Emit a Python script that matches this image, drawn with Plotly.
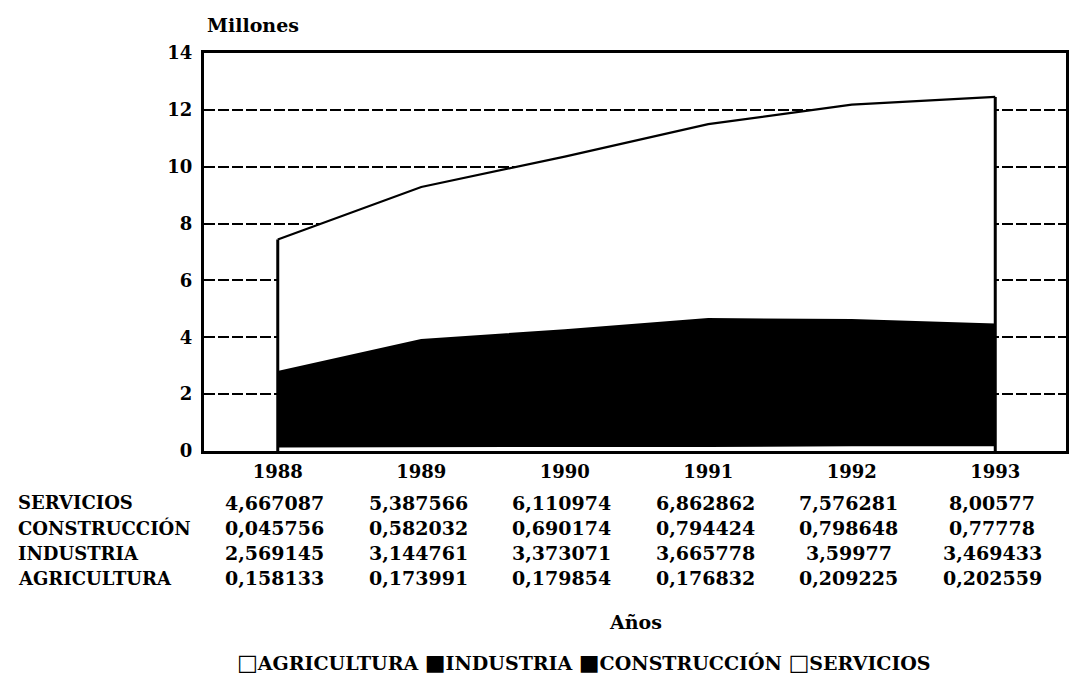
import numpy as np
import plotly.graph_objects as go

# Employment by sector (millions)
years = [1988, 1989, 1990, 1991, 1992, 1993]
agricultura = [0.158133, 0.173991, 0.179854, 0.176832, 0.209225, 0.202559]
industria = [2.569145, 3.144761, 3.373071, 3.665778, 3.59977, 3.469433]
construccion = [0.045756, 0.582032, 0.690174, 0.794424, 0.798648, 0.77778]
servicios = [4.667087, 5.387566, 6.110974, 6.862862, 7.576281, 8.00577]

series_names = ["AGRICULTURA", "INDUSTRIA", "CONSTRUCCIÓN", "SERVICIOS"]
series_values = [agricultura, industria, construccion, servicios]
series_fill = ["white", "black", "black", "white"]
legend_marks = ["□", "■", "■", "□"]

y_ticks = [0, 2, 4, 6, 8, 10, 12, 14]

W, H = 1070, 676
L, R, T, B = 204, 1, 53, 225
plot_w = W - L - R
plot_h = H - T - B

FONT = "DejaVu Serif"


def px_x(px):
    return (px - L) / plot_w


def px_y(py):
    return (H - B - py) / plot_h


def bold(size):
    return dict(family=FONT, size=size, color="black", weight="bold")


fig = go.Figure()

for name, vals, fill in zip(series_names, series_values, series_fill):
    fig.add_trace(go.Scatter(
        x=years, y=vals, name=name, mode="lines",
        stackgroup="one", fillcolor=fill,
        line=dict(color="black", width=2.2),
        showlegend=False, hoverinfo="skip",
    ))

# closing edges of the stacked area at the first and last year
totals = np.sum(np.array(series_values), axis=0)
fig.add_trace(go.Scatter(
    x=[years[0], years[0], None, years[-1], years[-1]],
    y=[0, totals[0], None, 0, totals[-1]],
    mode="lines", line=dict(color="black", width=3),
    showlegend=False, hoverinfo="skip",
))

annotations = []

annotations.append(dict(
    text="Millones", xref="paper", yref="paper",
    x=px_x(205), y=px_y(25), xanchor="left", yanchor="middle",
    showarrow=False, font=bold(19),
))

# data table below the axis
table_rows = list(zip(series_names, series_values))[::-1]
row_y = [503, 528, 553, 578]
for (name, vals), py in zip(table_rows, row_y):
    annotations.append(dict(
        text=name, xref="paper", yref="paper",
        x=px_x(15), y=px_y(py), xanchor="left", yanchor="middle",
        showarrow=False, font=bold(18),
    ))
    for yr, v in zip(years, vals):
        annotations.append(dict(
            text=repr(v).replace(".", ","), xref="x", yref="paper",
            x=yr, xshift=-3, y=px_y(py), xanchor="center", yanchor="middle",
            showarrow=False, font=bold(19),
        ))

annotations.append(dict(
    text="Años", xref="paper", yref="paper",
    x=0.5, y=px_y(622), xanchor="center", yanchor="middle",
    showarrow=False, font=bold(19),
))

# legend line: square marks followed by series names
legend_text = " ".join(
    '<span style="font-size:22px">' + m + "</span>" + n
    for m, n in zip(legend_marks, series_names)
)
annotations.append(dict(
    text=legend_text, xref="paper", yref="paper",
    x=px_x(235), y=px_y(662), xanchor="left", yanchor="middle",
    showarrow=False, font=bold(19),
))

fig.update_layout(
    width=W, height=H,
    margin=dict(l=L, r=R, t=T, b=B),
    paper_bgcolor="white", plot_bgcolor="white",
    font=bold(18),
    annotations=annotations,
    showlegend=False,
)

fig.update_xaxes(
    range=[1987.486, 1993.493],
    tickvals=years, ticktext=[str(y) for y in years],
    showgrid=False, zeroline=False,
    showline=True, linecolor="black", linewidth=2.5, mirror=True,
    ticks="", ticklabelstandoff=3,
    tickfont=bold(18),
)

fig.update_yaxes(
    range=[0, 14], tickvals=y_ticks,
    showgrid=True, gridcolor="black", gridwidth=2, griddash="11px,3px",
    zeroline=False,
    showline=True, linecolor="black", linewidth=3, mirror=True,
    ticks="", ticklabelstandoff=5,
    tickfont=bold(18),
)

fig.write_html("out.html")
